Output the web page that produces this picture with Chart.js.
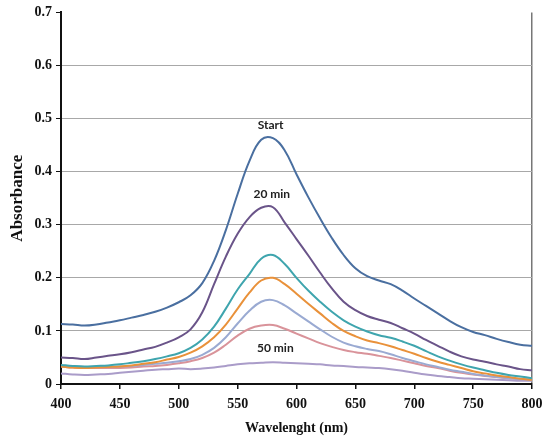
<!DOCTYPE html>
<html>
<head>
<meta charset="utf-8">
<script src="https://cdn.jsdelivr.net/npm/chart.js@4.4.1/dist/chart.umd.min.js"></script>
<style>
  html, body { margin: 0; padding: 0; background: #fff; }
  #wrap { width: 545px; height: 437px; position: relative; }
</style>
</head>
<body>
<div id="wrap"><canvas id="espectro"></canvas></div>
<script>
// longitudes de onda (nm), cada 10 nm
const wavelengths = [400,410,420,430,440,450,460,470,480,490,500,510,520,530,540,550,560,570,580,590,600,
                     610,620,630,640,650,660,670,680,690,700,710,720,730,740,750,760,770,780,790,800];

const startVals = [.113,.112,.110,.112,.116,.120,.125,.130,.136,.144,.154,.167,.190,.232,.290,.358,.420,.460,.463,.440,.395,
                   .352,.312,.275,.243,.218,.203,.195,.188,.176,.161,.147,.133,.119,.107,.098,.092,.085,.079,.074,.072];
const min20Vals = [.050,.049,.047,.050,.053,.056,.060,.065,.070,.078,.088,.103,.135,.188,.240,.283,.314,.332,.333,.304,.273,
                   .242,.210,.180,.155,.139,.128,.121,.115,.105,.095,.083,.072,.061,.052,.046,.042,.037,.033,.028,.026];
const tealVals  = [.036,.034,.033,.034,.035,.037,.040,.043,.047,.052,.058,.068,.084,.108,.142,.178,.207,.236,.243,.226,.200,
                   .176,.155,.136,.120,.108,.099,.092,.087,.080,.072,.062,.052,.044,.037,.031,.026,.021,.017,.014,.011];
const orangeVals= [.033,.031,.030,.031,.032,.033,.035,.038,.041,.046,.051,.059,.071,.088,.112,.142,.172,.195,.200,.188,.170,
                   .151,.133,.115,.100,.090,.082,.077,.071,.064,.057,.049,.042,.036,.030,.024,.020,.016,.013,.010,.008];
const lblueVals = [.035,.033,.032,.032,.032,.033,.034,.036,.038,.040,.043,.047,.055,.068,.088,.114,.138,.155,.158,.148,.133,
                   .118,.103,.089,.078,.071,.066,.062,.056,.049,.043,.037,.032,.027,.023,.019,.016,.013,.011,.009,.008];
const pinkVals  = [.033,.031,.030,.030,.030,.030,.031,.033,.034,.036,.039,.043,.049,.059,.074,.091,.104,.110,.111,.104,.095,
                   .086,.077,.070,.064,.060,.057,.053,.049,.044,.039,.034,.030,.025,.021,.018,.015,.013,.011,.009,.008];
const min50Vals = [.020,.018,.017,.018,.019,.021,.023,.025,.027,.028,.029,.028,.029,.031,.034,.037,.039,.040,.041,.040,.039,
                   .038,.037,.035,.034,.032,.031,.030,.028,.025,.021,.018,.015,.013,.011,.010,.009,.008,.007,.006,.006];

const yTicks = [0, 0.1, 0.2, 0.3, 0.4, 0.5, 0.6, 0.7];

// etiquetas dentro del gráfico (posición en unidades de datos)
const etiquetas = [
  { text: "Start",  x: 578, y: 0.488 },
  { text: "20 min", x: 579, y: 0.357 },
  { text: "50 min", x: 582, y: 0.067 }
];

const series = [
  { label: "Start",  data: startVals,  color: "#4A6FA0" },
  { label: "20 min", data: min20Vals,  color: "#6A5489" },
  { label: "c",      data: tealVals,   color: "#3FA5AE" },
  { label: "d",      data: orangeVals, color: "#E9913A" },
  { label: "e",      data: lblueVals,  color: "#9AAAD2" },
  { label: "f",      data: pinkVals,   color: "#D9939A" },
  { label: "50 min", data: min50Vals,  color: "#AA9CC9" }
];

const labelPlugin = {
  id: "labels",
  afterDatasetsDraw(chart) {
    const { ctx, scales } = chart;
    ctx.save();
    ctx.font = "bold 12px Lato, 'Open Sans', sans-serif";
    ctx.fillStyle = "#222";
    ctx.textAlign = "center";
    ctx.textBaseline = "middle";
    etiquetas.forEach(e => {
      ctx.fillText(e.text, scales.x.getPixelForValue(e.x), scales.y.getPixelForValue(e.y));
    });
    ctx.restore();
  }
};

const serif = "'Liberation Serif', 'Times New Roman', serif";

new Chart(document.getElementById("espectro"), {
  type: "line",
  data: {
    datasets: series.map(s => ({
      label: s.label,
      data: wavelengths.map((w, i) => ({ x: w, y: s.data[i] })),
      borderColor: s.color,
      borderWidth: 2,
      pointRadius: 0,
      tension: 0.4,
      fill: false
    }))
  },
  options: {
    responsive: true,
    maintainAspectRatio: false,
    animation: false,
    layout: { padding: { top: 8, right: 0, left: 3, bottom: 0 } },
    plugins: { legend: { display: false }, tooltip: { enabled: false } },
    scales: {
      x: {
        type: "linear",
        min: 400, max: 800,
        afterFit: axis => { axis.height = 53; axis.paddingRight = 13; axis.paddingLeft = 0; },
        ticks: { stepSize: 50, maxRotation: 0, minRotation: 0, color: "#111", font: { family: serif, size: 14, weight: "bold" }, padding: 7 },
        grid: {
          color: ctx => ctx.tick && ctx.tick.value === 800 ? "#777" : "rgba(0,0,0,0)",
          tickColor: "#111",
          tickLength: 5,
          lineWidth: 1.5
        },
        border: { display: true, color: "#111", width: 2 },
        title: { display: true, text: "Wavelenght (nm)", color: "#111", font: { family: serif, size: 14, weight: "bold" }, padding: { top: 3, bottom: 0 } }
      },
      y: {
        min: 0, max: 0.7,
        afterFit: axis => { axis.width = 58; },
        afterBuildTicks: axis => { axis.ticks = yTicks.map(v => ({ value: v })); },
        ticks: {
          color: "#111",
          font: { family: serif, size: 14, weight: "bold" },
          padding: 4,
          callback: v => v === 0 ? "0" : v.toFixed(1)
        },
        grid: {
          color: ctx => ctx.tick && (ctx.tick.value === 0 || ctx.tick.value > 0.65) ? "rgba(0,0,0,0)" : "#a8a8a8",
          tickColor: "#111",
          tickLength: 5,
          lineWidth: 1
        },
        border: { display: true, color: "#111", width: 2 },
        title: { display: true, text: "Absorbance", color: "#111", font: { family: serif, size: 17, weight: "bold" }, padding: { bottom: 2 } }
      }
    }
  },
  plugins: [labelPlugin]
});
</script>
</body>
</html>
